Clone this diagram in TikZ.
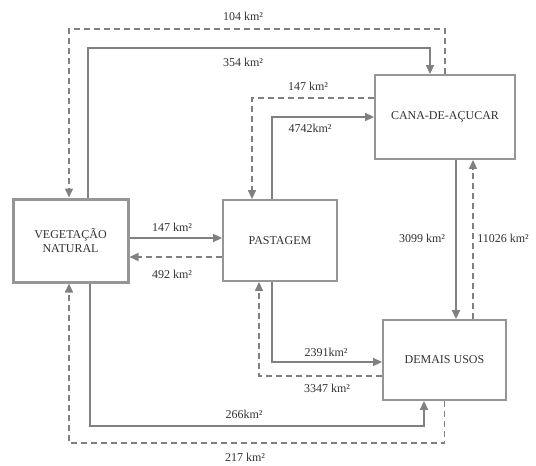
\documentclass[tikz,border=0pt]{standalone}
\usepackage{fontspec}
\setmainfont{Liberation Serif}
\usetikzlibrary{arrows.meta}
\definecolor{linegray}{RGB}{128,128,128}
\definecolor{boxgray}{RGB}{150,150,150}
\definecolor{txtgray}{RGB}{50,50,50}

\begin{document}
\begin{tikzpicture}[x=1pt,y=-1pt,
  font=\fontsize{12}{14}\selectfont, text=txtgray,
  uso/.style={draw=boxgray,line width=1.8pt,align=center,inner sep=0pt},
  flow/.style={draw=linegray,line width=1.5pt,-{Triangle[length=9pt,width=8pt]}},
  back/.style={flow,dash pattern=on 6pt off 4pt}]
 \useasboundingbox (0,0) rectangle (536,466);
 % land uses
 \node[uso,line width=3pt,minimum width=115pt,minimum height=83pt] (veg) at (70.5,240.5) {VEGETAÇÃO\\NATURAL};
 \node[uso,minimum width=114pt,minimum height=81pt] (past) at (280,240.5) {PASTAGEM};
 \node[uso,minimum width=140pt,minimum height=84pt] (cana) at (445,117) {CANA-DE-AÇUCAR};
 \node[uso,minimum width=123pt,minimum height=80pt] (demais) at (444.5,360) {DEMAIS USOS};
 % transitions
 \draw[back] (cana.north) |- (69,29) -- ([xshift=-1.5pt]veg.north);
 \draw[flow] ([xshift=17.5pt]veg.north) |- (430,48) -- ([xshift=-15pt]cana.north);
 \draw[back] ([yshift=19pt]cana.west) -| ([xshift=-28pt]past.north);
 \draw[flow] ([xshift=-8pt]past.north) |- (cana.west);
 \draw[flow] ([yshift=2.5pt]veg.east) -- ([yshift=2.5pt]past.west);
 \draw[back] ([yshift=-16.5pt]past.west) -- ([yshift=-16.5pt]veg.east);
 \draw[flow] ([xshift=11pt]cana.south) -- ([xshift=11.5pt]demais.north);
 \draw[back] ([xshift=28.5pt]demais.north) -- ([xshift=28pt]cana.south);
 \draw[flow] ([xshift=-8pt]past.south) |- ([yshift=-2pt]demais.west);
 \draw[back] ([yshift=-16pt]demais.west) -| ([xshift=-21pt]past.south);
 \draw[flow] ([xshift=19.5pt]veg.south) |- (424,426) -- ([xshift=-20.5pt]demais.south);
 \draw[back] (demais.south) |- (69,443) -- ([xshift=-1.5pt]veg.south);
 % areas
 \foreach \n/\x/\y/\t in
  {
    a/243/16/104 km², b/243/62/354 km², c/308/86/147 km²,
    d/310/128/4742km², e/172/227/147 km², f/172/274/492 km²,
    g/422/238/3099 km², h/503/238/11026 km², i/326/352/2391km²,
    j/327/388/3347 km², k/244/414/266km², l/245/457/217 km²
  }
  {
    \node (lab\n) at (\x,\y) {\t};
  }
\end{tikzpicture}
\end{document}
